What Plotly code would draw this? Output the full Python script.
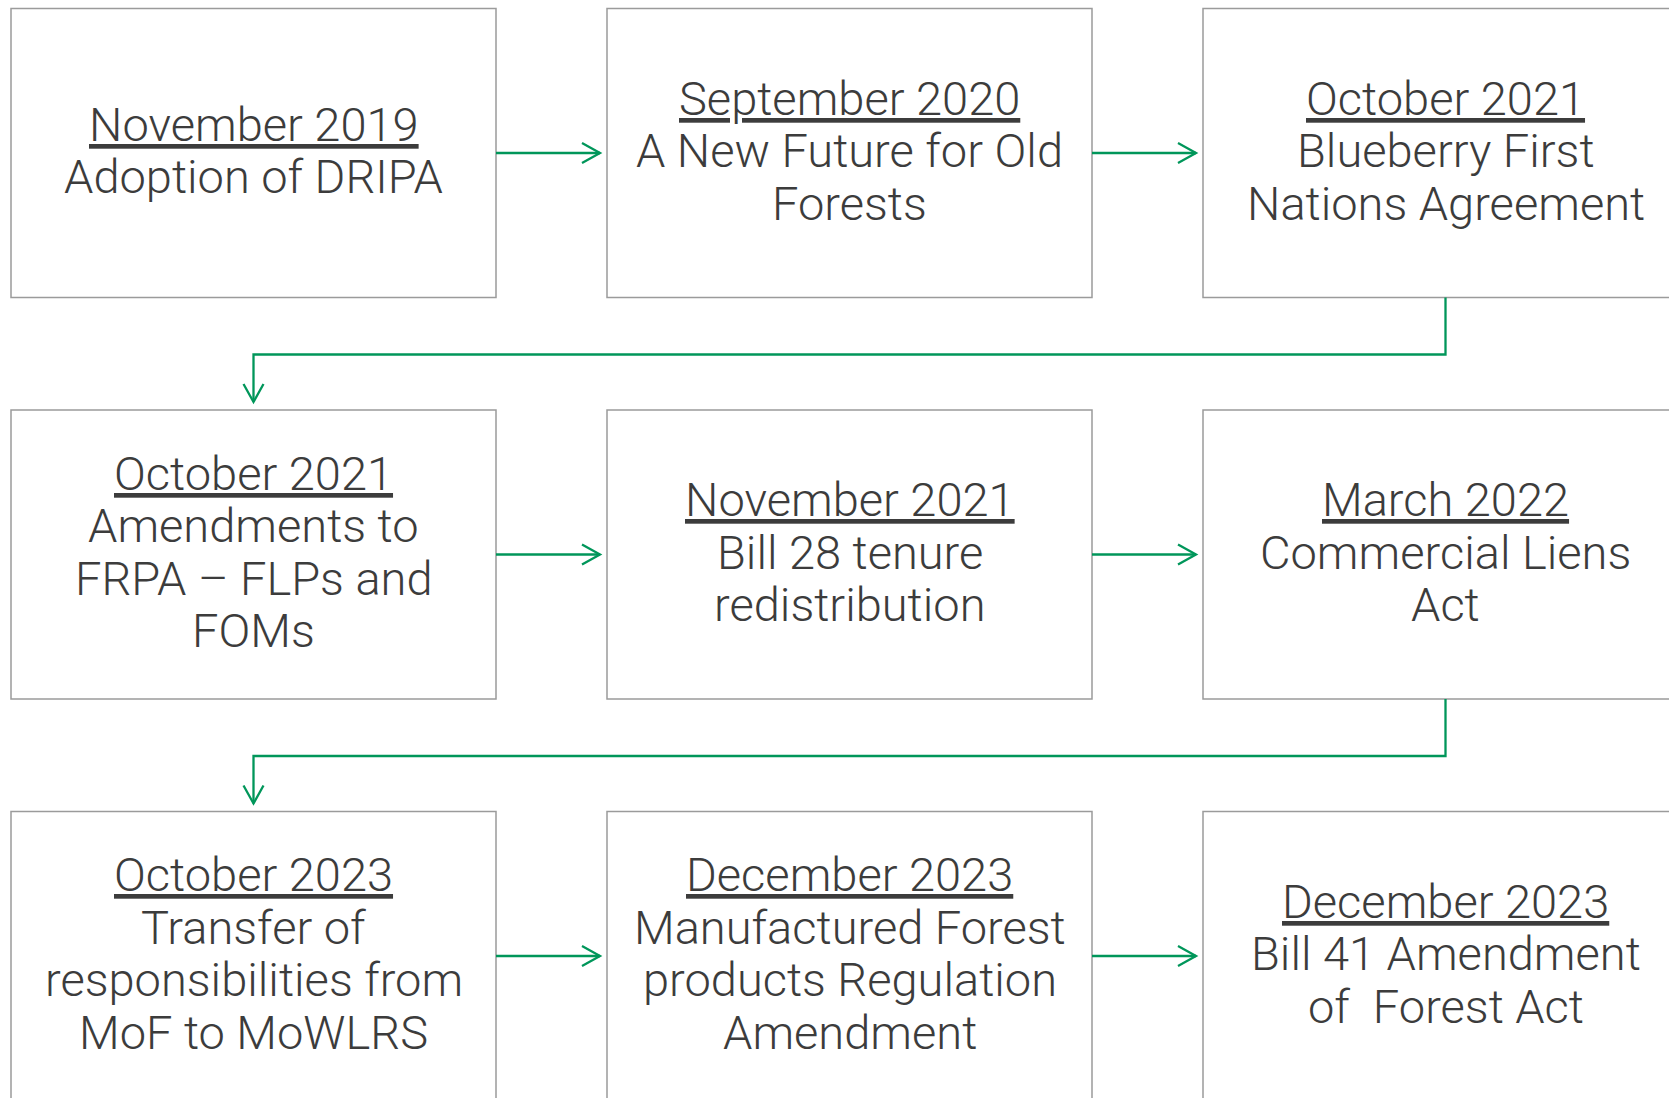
import plotly.graph_objects as go

# ---- content ----
dates = ["November 2019", "September 2020", "October 2021",
         "October 2021", "November 2021", "March 2022",
         "October 2023", "December 2023", "December 2023"]
descriptions = [
    ["Adoption of DRIPA"],
    ["A New Future for Old", "Forests"],
    ["Blueberry First", "Nations Agreement"],
    ["Amendments to", "FRPA \u2013 FLPs and", "FOMs"],
    ["Bill 28 tenure", "redistribution"],
    ["Commercial Liens", "Act"],
    ["Transfer of", "responsibilities from", "MoF to MoWLRS"],
    ["Manufactured Forest", "products Regulation", "Amendment"],
    ["Bill 41 Amendment", "of\u00a0 Forest Act"],
]
n_cols = 3

# ---- layout geometry (pixels) ----
W, H = 1669, 1098
left0, top0 = 11, 8.5
box_w, box_h = 485, 289
col_pitch, row_pitch = 596, 401.5
line_pitch = 52.5
arrow_gap = 7
connector_drop = 57
head_len, head_half = 18, 10

GREEN = "#00965A"
BORDER = "#9B9B9B"
TEXT = "#3C3C3C"
FONT = "Roboto"
FSIZE = 47

shapes = []
annotations = []


def box_geom(i):
    r, c = divmod(i, n_cols)
    x0 = left0 + c * col_pitch
    y0 = top0 + r * row_pitch
    return x0, y0, x0 + box_w, y0 + box_h


for i, (d, desc) in enumerate(zip(dates, descriptions)):
    x0, y0, x1, y1 = box_geom(i)
    shapes.append(dict(type="rect", xref="x", yref="y", x0=x0, y0=y0, x1=x1, y1=y1,
                       line=dict(color=BORDER, width=1.5), fillcolor="white", layer="below"))
    cx, cy = (x0 + x1) / 2, (y0 + y1) / 2
    lines = ["<u>" + d + "</u>"] + desc
    n = len(lines)
    for k, t in enumerate(lines):
        annotations.append(dict(x=cx, y=cy + (k - (n - 1) / 2) * line_pitch - 2.5, xref="x", yref="y",
                                text=t, showarrow=False, xanchor="center", yanchor="middle",
                                font=dict(family=FONT, size=FSIZE, color=TEXT, weight=300)))

line_style = dict(color=GREEN, width=2.3)
for i in range(len(dates) - 1):
    x0, y0, x1, y1 = box_geom(i)
    nx0, ny0, nx1, ny1 = box_geom(i + 1)
    if (i + 1) % n_cols != 0:
        y = (y0 + y1) / 2
        tip = nx0 - arrow_gap
        shapes.append(dict(type="path", xref="x", yref="y",
                           path=f"M {x1},{y} L {tip},{y}", line=line_style))
        shapes.append(dict(type="path", xref="x", yref="y",
                           path=f"M {tip-head_len},{y-head_half} L {tip},{y} L {tip-head_len},{y+head_half}",
                           line=line_style))
    else:
        sx = (x0 + x1) / 2
        ex = (nx0 + nx1) / 2
        ym = y1 + connector_drop
        tip = ny0 - arrow_gap - 1
        shapes.append(dict(type="path", xref="x", yref="y",
                           path=f"M {sx},{y1} L {sx},{ym} L {ex},{ym} L {ex},{tip}", line=line_style))
        shapes.append(dict(type="path", xref="x", yref="y",
                           path=f"M {ex-head_half},{tip-head_len} L {ex},{tip} L {ex+head_half},{tip-head_len}",
                           line=line_style))

fig = go.Figure()
fig.update_layout(
    width=W, height=H, margin=dict(l=0, r=0, t=0, b=0),
    paper_bgcolor="white", plot_bgcolor="white",
    xaxis=dict(range=[0, W], visible=False, fixedrange=True),
    yaxis=dict(range=[H, 0], visible=False, fixedrange=True),
    shapes=shapes, annotations=annotations, showlegend=False,
)
fig.write_html("out.html", post_script="document.body.style.margin='0px';document.body.style.overflow='hidden';",
               config={"displayModeBar": False})
